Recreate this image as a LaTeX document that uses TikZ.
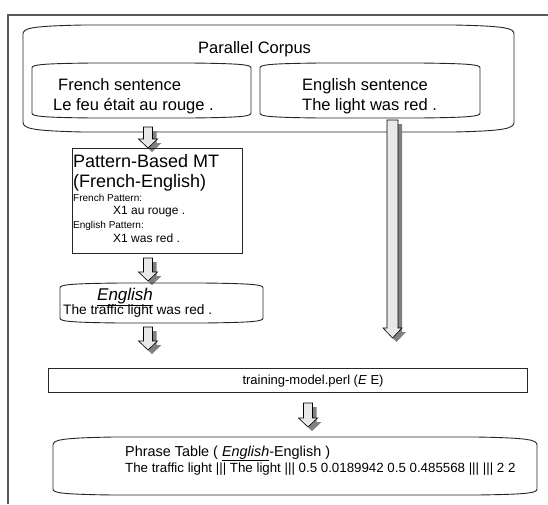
\documentclass[tikz,border=0pt]{standalone}
\usepackage{fontspec}
\setmainfont{Liberation Sans}
\newcommand\fs[1]{\fontsize{#1}{#1}\selectfont}
% barrel: x1,ytop(mid),x2,ybottom(mid),top bulge,bottom bulge
\newcommand\barrelbox[6]{%
  \draw[boxline] (#1,#2+#5) .. controls (#1,#2+0.35*#5) and (#1+8,#2+0.12*#5) .. (#1+60,#2)
    -- (#3-60,#2) .. controls (#3-8,#2+0.12*#5) and (#3,#2+0.35*#5) .. (#3,#2+#5)
    -- (#3,#4-#6) .. controls (#3,#4-0.35*#6) and (#3-8,#4-0.12*#6) .. (#3-60,#4)
    -- (#1+60,#4) .. controls (#1+8,#4-0.12*#6) and (#1,#4-0.35*#6) .. (#1,#4-#6) -- cycle;}
% block arrow: cx, ytop, ytip, shaft half width, head half width, head length
\newcommand\blockarr[6]{%
  \fill[arrshadow] (#1-#4+4,#2+4) -- (#1+#4+4,#2+4) -- (#1+#4+4,#3-#6+4) -- (#1+#5+4,#3-#6+4)
    -- (#1+4,#3+4) -- (#1-#5+4,#3-#6+4) -- (#1-#4+4,#3-#6+4) -- cycle;
  \draw[arrbody] (#1-#4,#2) -- (#1+#4,#2) -- (#1+#4,#3-#6) -- (#1+#5,#3-#6)
    -- (#1,#3) -- (#1-#5,#3-#6) -- (#1-#4,#3-#6) -- cycle;}
\begin{document}
\begin{tikzpicture}[x=1pt,y=-1pt,
  boxline/.style={draw=black!85, line width=0.9pt},
  arrbody/.style={draw=black, line width=0.6pt, fill=black!9},
  arrshadow/.style={fill=black!50},
  txt/.style={inner sep=0pt, anchor=base west}]
\useasboundingbox (0,0) rectangle (548,504);
\fill[white] (0,0) rectangle (548,504);
\draw[black!65, line width=1.2pt] (548,15) -- (8,15) -- (8,504);

% Parallel corpus
\barrelbox{23}{25}{514}{132}{9}{10}
\barrelbox{32}{63}{251}{118}{5}{5}
\barrelbox{260}{63}{480}{118}{5}{5}
\node[txt, font=\fs{16.5}] (pc) at (198,53) {Parallel Corpus};
\node[txt, font=\fs{16.5}] (fr1) at (58,90) {French sentence};
\node[txt, font=\fs{16.5}] (fr2) at (53,110) {Le feu était au rouge .};
\node[txt, font=\fs{16.5}] (en1) at (302,90) {English sentence};
\node[txt, font=\fs{16.5}] (en2) at (302,110) {The light was red .};

% long arrow
\blockarr{392.5}{120}{338}{5.5}{9.5}{10}

% arrow 1
\blockarr{148}{127}{148}{4.5}{9.5}{9}

% Pattern box
\draw[boxline] (72,148) rectangle (242,253);
\node[txt, font=\fs{18}] (p1) at (73,167) {Pattern-Based MT};
\node[txt, font=\fs{18}] (p2) at (73,187) {(French-English)};
\node[txt, font=\fs{10}] (p3) at (73,201) {French Pattern:};
\node[txt, font=\fs{12}] (p4) at (113,214.5) {X1 au rouge .};
\node[txt, font=\fs{10}] (p5) at (73,228) {English Pattern:};
\node[txt, font=\fs{12}] (p6) at (113,242) {X1 was red .};

% arrow 2
\blockarr{148}{258}{281}{4.5}{9.5}{9}

% English box
\barrelbox{60}{283}{263}{323}{5}{5}
\node[txt, font=\fs{17}] (e1) at (97,300) {\underline{\textit{English}}};
\node[txt, font=\fs{13.7}] (e2) at (63,314) {The traffic light was red .};

% arrow 3
\blockarr{148}{327}{350}{4.5}{9.5}{9}

% training
\draw[boxline] (48,368) rectangle (527,392);
\node[inner sep=0pt, anchor=base, font=\fs{13}] (tr) at (313,384) {training-model.perl (\textit{E} E)};

% arrow 4
\blockarr{308}{403}{427}{4.5}{9.5}{9}

% Phrase table
\barrelbox{53}{437}{537}{495}{8}{6}
\node[txt, font=\fs{14.4}] (t1) at (125,456) {Phrase Table ( \underline{\textit{English}}-English )};
\node[txt, font=\fs{13.3}] (t2) at (125,472) {The traffic light ||| The light ||| 0.5 0.0189942 0.5 0.485568 ||| ||| 2 2};
\end{tikzpicture}
\end{document}
